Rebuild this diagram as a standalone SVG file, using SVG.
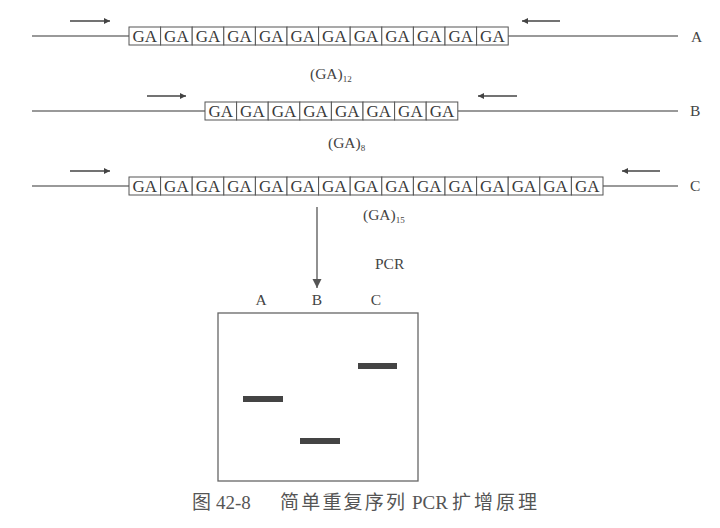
<svg xmlns="http://www.w3.org/2000/svg" width="720" height="528" viewBox="0 0 720 528">
<style>
.bg{fill:#fff}
.dna{stroke:#777;stroke-width:1.3;fill:none}
.cell{fill:#fff;stroke:#555;stroke-width:1}
.ga{font-family:"Liberation Serif",serif;font-size:17px;fill:#3a3a3a;text-anchor:middle}
.lbl{font-family:"Liberation Serif",serif;font-size:15.5px;fill:#444}
.sub{font-size:9px}
.pr{stroke:#444;stroke-width:1.3;fill:none}
.gel{fill:#fff;stroke:#666;stroke-width:1.3}
.band{fill:#444}
.cap{font-family:"Liberation Serif","Noto Sans CJK SC",serif;font-size:19px;fill:#555}
.capl{font-family:"Liberation Serif",serif;font-size:19px;fill:#555}
</style>
<defs>
<marker id="ah" viewBox="0 0 10 10" refX="10" refY="5" markerWidth="7" markerHeight="6" markerUnits="userSpaceOnUse" orient="auto"><path d="M0,0 L10,5 L0,10 z" fill="#444"/></marker>
<marker id="ah2" viewBox="0 0 10 10" refX="10" refY="5" markerWidth="9" markerHeight="12" markerUnits="userSpaceOnUse" orient="auto"><path d="M0,0 L10,5 L0,10 z" fill="#555"/></marker>
</defs>
<rect class="bg" width="720" height="528"/>

<g id="seqA">
<line class="dna" x1="32" y1="36" x2="129" y2="36"/>
<line class="dna" x1="508" y1="36" x2="678" y2="36"/>
<g>
<rect class="cell" x="129" y="27" width="31.6" height="18"/><rect class="cell" x="160.6" y="27" width="31.6" height="18"/><rect class="cell" x="192.2" y="27" width="31.6" height="18"/><rect class="cell" x="223.8" y="27" width="31.6" height="18"/><rect class="cell" x="255.4" y="27" width="31.6" height="18"/><rect class="cell" x="287" y="27" width="31.6" height="18"/><rect class="cell" x="318.6" y="27" width="31.6" height="18"/><rect class="cell" x="350.2" y="27" width="31.6" height="18"/><rect class="cell" x="381.8" y="27" width="31.6" height="18"/><rect class="cell" x="413.4" y="27" width="31.6" height="18"/><rect class="cell" x="445" y="27" width="31.6" height="18"/><rect class="cell" x="476.6" y="27" width="31.6" height="18"/>
</g>
<g class="ga">
<text x="144.8" y="42.3">GA</text><text x="176.4" y="42.3">GA</text><text x="208" y="42.3">GA</text><text x="239.6" y="42.3">GA</text><text x="271.2" y="42.3">GA</text><text x="302.8" y="42.3">GA</text><text x="334.4" y="42.3">GA</text><text x="366" y="42.3">GA</text><text x="397.6" y="42.3">GA</text><text x="429.2" y="42.3">GA</text><text x="460.8" y="42.3">GA</text><text x="492.4" y="42.3">GA</text>
</g>
<line class="pr" x1="70" y1="21" x2="110" y2="21" marker-end="url(#ah)"/>
<line class="pr" x1="560" y1="21" x2="522" y2="21" marker-end="url(#ah)"/>
<text class="lbl" x="691" y="42">A</text>
<text class="lbl" x="310" y="79">(GA)<tspan class="sub" dy="3">12</tspan></text>
</g>

<g id="seqB">
<line class="dna" x1="32" y1="111" x2="205" y2="111"/>
<line class="dna" x1="458" y1="111" x2="678" y2="111"/>
<g>
<rect class="cell" x="205" y="102" width="31.6" height="18"/><rect class="cell" x="236.6" y="102" width="31.6" height="18"/><rect class="cell" x="268.2" y="102" width="31.6" height="18"/><rect class="cell" x="299.8" y="102" width="31.6" height="18"/><rect class="cell" x="331.4" y="102" width="31.6" height="18"/><rect class="cell" x="363" y="102" width="31.6" height="18"/><rect class="cell" x="394.6" y="102" width="31.6" height="18"/><rect class="cell" x="426.2" y="102" width="31.6" height="18"/>
</g>
<g class="ga">
<text x="220.8" y="117.3">GA</text><text x="252.4" y="117.3">GA</text><text x="284" y="117.3">GA</text><text x="315.6" y="117.3">GA</text><text x="347.2" y="117.3">GA</text><text x="378.8" y="117.3">GA</text><text x="410.4" y="117.3">GA</text><text x="442" y="117.3">GA</text>
</g>
<line class="pr" x1="147" y1="96" x2="186" y2="96" marker-end="url(#ah)"/>
<line class="pr" x1="517" y1="96" x2="478" y2="96" marker-end="url(#ah)"/>
<text class="lbl" x="690" y="116">B</text>
<text class="lbl" x="328" y="148">(GA)<tspan class="sub" dy="3">8</tspan></text>
</g>

<g id="seqC">
<line class="dna" x1="32" y1="186" x2="129" y2="186"/>
<line class="dna" x1="602" y1="186" x2="678" y2="186"/>
<g>
<rect class="cell" x="129" y="177" width="31.6" height="18"/><rect class="cell" x="160.6" y="177" width="31.6" height="18"/><rect class="cell" x="192.2" y="177" width="31.6" height="18"/><rect class="cell" x="223.8" y="177" width="31.6" height="18"/><rect class="cell" x="255.4" y="177" width="31.6" height="18"/><rect class="cell" x="287" y="177" width="31.6" height="18"/><rect class="cell" x="318.6" y="177" width="31.6" height="18"/><rect class="cell" x="350.2" y="177" width="31.6" height="18"/><rect class="cell" x="381.8" y="177" width="31.6" height="18"/><rect class="cell" x="413.4" y="177" width="31.6" height="18"/><rect class="cell" x="445" y="177" width="31.6" height="18"/><rect class="cell" x="476.6" y="177" width="31.6" height="18"/><rect class="cell" x="508.2" y="177" width="31.6" height="18"/><rect class="cell" x="539.8" y="177" width="31.6" height="18"/><rect class="cell" x="571.4" y="177" width="31.6" height="18"/>
</g>
<g class="ga">
<text x="144.8" y="192.3">GA</text><text x="176.4" y="192.3">GA</text><text x="208" y="192.3">GA</text><text x="239.6" y="192.3">GA</text><text x="271.2" y="192.3">GA</text><text x="302.8" y="192.3">GA</text><text x="334.4" y="192.3">GA</text><text x="366" y="192.3">GA</text><text x="397.6" y="192.3">GA</text><text x="429.2" y="192.3">GA</text><text x="460.8" y="192.3">GA</text><text x="492.4" y="192.3">GA</text><text x="524" y="192.3">GA</text><text x="555.6" y="192.3">GA</text><text x="587.2" y="192.3">GA</text>
</g>
<line class="pr" x1="70" y1="171" x2="110" y2="171" marker-end="url(#ah)"/>
<line class="pr" x1="660" y1="171" x2="622" y2="171" marker-end="url(#ah)"/>
<text class="lbl" x="690" y="191">C</text>
<text class="lbl" x="363" y="220">(GA)<tspan class="sub" dy="3">15</tspan></text>
</g>

<g id="connectors">
<line x1="317" y1="207" x2="317" y2="288" stroke="#555" stroke-width="1.3" marker-end="url(#ah2)"/>
</g>

<g id="pcr">
<text class="lbl" x="375" y="269">PCR</text>
</g>

<g id="gel">
<rect class="gel" x="218" y="313" width="200" height="168"/>
<text class="lbl" x="261" y="305" text-anchor="middle">A</text>
<text class="lbl" x="317" y="305" text-anchor="middle">B</text>
<text class="lbl" x="376" y="305" text-anchor="middle">C</text>
<rect class="band" x="243" y="396" width="40" height="6"/>
<rect class="band" x="300" y="438" width="40" height="6"/>
<rect class="band" x="358" y="363" width="39" height="6"/>
</g>

<g id="caption">
<text class="cap" y="509"><tspan x="192">图</tspan><tspan x="216" class="capl">42-8</tspan><tspan x="280" letter-spacing="2.2">简单重复序列</tspan><tspan x="412" class="capl" font-size="17.5">PCR</tspan><tspan x="452" letter-spacing="3">扩增原理</tspan></text>
</g>
</svg>
